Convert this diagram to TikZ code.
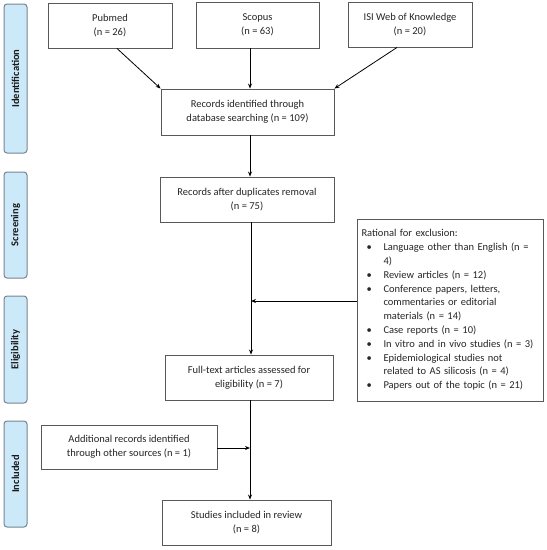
\documentclass[tikz,border=0pt]{standalone}
\usepackage{fontspec}
\setmainfont{Carlito}
\usetikzlibrary{arrows.meta}
\definecolor{phasefill}{RGB}{204,233,250}
\definecolor{phasedraw}{RGB}{120,132,145}
\begin{document}
\begin{tikzpicture}[x=1pt,y=-1pt,
  box/.style={draw=black!65,line width=0.9pt,fill=white,align=center,inner sep=2pt,
    font=\fontsize{10.5}{14}\selectfont,text=black!85},
  phase/.style={draw=phasedraw,line width=1pt,fill=phasefill,rounded corners=3pt,
    font=\fontsize{10.5}{12}\selectfont\bfseries,text=black!90,rotate=90},
  conn/.style={line width=0.8pt,-{Stealth[length=5pt,width=4pt]}}]
\useasboundingbox (0,0) rectangle (547,550);
% phases
\node[phase,minimum height=23pt,minimum width=149pt] (pid) at (15.5,78.5) {Identification};
\node[phase,minimum height=23pt,minimum width=106pt] (psc) at (15.5,225) {Screening};
\node[phase,minimum height=23pt,minimum width=107pt] (pel) at (15.5,349.5) {Eligibility};
\node[phase,minimum height=23pt,minimum width=106pt] (pin) at (15.5,474) {Included};
% boxes
\node[box,minimum width=124pt,minimum height=45pt] (pub) at (110,25.5) {Pubmed\\(n = 26)};
\node[box,minimum width=123pt,minimum height=46pt] (sco) at (257.5,25) {Scopus\\(n = 63)};
\node[box,minimum width=124pt,minimum height=45pt] (isi) at (410,24.5) {ISI Web of Knowledge\\(n = 20)};
\node[box,minimum width=173pt,minimum height=46pt] (rec) at (247.5,112) {Records identified through\\database searching (n = 109)};
\node[box,minimum width=174pt,minimum height=45pt] (dup) at (247,199.5) {Records after duplicates removal\\(n = 75)};
\node[box,minimum width=168pt,minimum height=45pt] (full) at (249,377.5) {Full-text articles assessed for\\eligibility (n = 7)};
\node[box,minimum width=176pt,minimum height=44pt] (add) at (129,447) {Additional records identified\\through other sources (n = 1)};
\node[box,minimum width=169pt,minimum height=45pt] (stu) at (246.5,522.5) {Studies included in review\\(n = 8)};
\node[box,text width=178pt,minimum height=182pt,align=left,inner sep=4pt,
  font=\fontsize{10.5}{13.8}\selectfont] (exc) at (450.5,310) {%
Rational for exclusion:\\
\makebox[22pt][l]{\hspace{5pt}•}Language other than English (n =\\
\hspace*{22pt}4)\\
\makebox[22pt][l]{\hspace{5pt}•}Review articles (n = 12)\\
\makebox[22pt][l]{\hspace{5pt}•}Conference papers, letters,\\
\hspace*{22pt}commentaries or editorial\\
\hspace*{22pt}materials (n = 14)\\
\makebox[22pt][l]{\hspace{5pt}•}Case reports (n = 10)\\
\makebox[22pt][l]{\hspace{5pt}•}In vitro and in vivo studies (n = 3)\\
\makebox[22pt][l]{\hspace{5pt}•}Epidemiological studies not\\
\hspace*{22pt}related to AS silicosis (n = 4)\\
\makebox[22pt][l]{\hspace{5pt}•}Papers out of the topic (n = 21)};
% connectors
\coordinate (sp) at (250,0);
\coordinate (j1) at (251,301);
\coordinate (j2) at (250,448);
\draw[conn] ([xshift=7pt]pub.south) -- (rec.north west);
\draw[conn] (sp |- sco.south) -- (sp |- rec.north);
\draw[conn] ([xshift=-13pt]isi.south) -- (rec.north east);
\draw[conn] (sp |- rec.south) -- (sp |- dup.north);
\draw[conn] (j1 |- dup.south) -- (j1 |- full.north);
\draw[conn] (exc.west |- j1) -- (j1);
\draw[conn] (add.east |- j2) -- (j2);
\draw[conn] (sp |- full.south) -- (sp |- stu.north);
\end{tikzpicture}
\end{document}
